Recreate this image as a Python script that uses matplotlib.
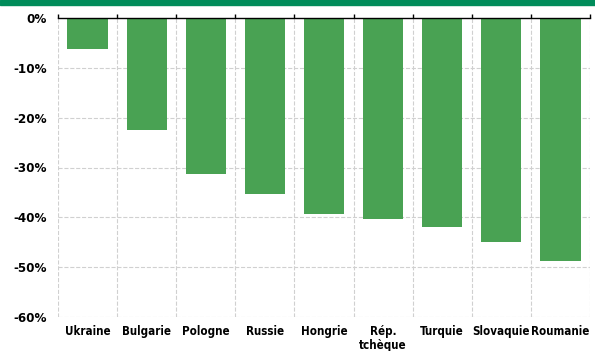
import matplotlib
matplotlib.use('Agg')
import matplotlib.pyplot as plt
import numpy as np
from matplotlib.ticker import FuncFormatter

# Data
countries = ['Ukraine', 'Bulgarie', 'Pologne', 'Russie', 'Hongrie',
             'Rép.\ntchèque', 'Turquie', 'Slovaquie', 'Roumanie']
changes = [-6.2, -22.5, -31.4, -35.3, -39.3, -40.4, -42.0, -45.0, -48.8]

plt.rcParams['font.family'] = ['DejaVu Sans']
plt.rcParams['font.stretch'] = 'condensed'

fig = plt.figure(figsize=(5.95, 3.51), dpi=100)
ax = fig.add_axes([58 / 595, (351 - 317) / 351, (590 - 58) / 595, (317 - 18) / 351])

x = np.arange(len(countries))
ax.bar(x, changes, width=0.68, color='#49a253', zorder=3)

# green band along the top of the figure
fig.patches.append(plt.Rectangle((0, 1 - 5 / 351), 1, 5 / 351, transform=fig.transFigure,
                                 color='#008c5a', zorder=0))

ax.set_xlim(-0.5, len(countries) - 0.5)
ax.set_ylim(-60, 0)
ax.set_yticks(np.arange(-60, 1, 10))
ax.yaxis.set_major_formatter(FuncFormatter(lambda v, p: '%d%%' % round(v)))

# dashed grid lines at category boundaries and every 10%
for b in np.arange(-0.5, len(countries), 1.0):
    ax.axvline(b, color='#d0d0d0', linestyle='--', linewidth=0.8, zorder=1)
for v in np.arange(-60, 0, 10):
    ax.axhline(v, color='#d0d0d0', linestyle='--', linewidth=0.8, zorder=1)

for s in ['left', 'right', 'bottom']:
    ax.spines[s].set_visible(False)
ax.spines['top'].set_color('black')
ax.spines['top'].set_linewidth(1.0)
ax.spines['top'].set_zorder(4)

ax.set_xticks(x)
ax.set_xticklabels(countries, fontsize=8.3, fontweight='semibold', linespacing=1.1)
ax.tick_params(axis='x', length=0, pad=6)
ax.set_xticks(np.arange(-0.5, len(countries), 1.0), minor=True)
ax.tick_params(axis='x', which='minor', top=True, bottom=False, direction='out', length=3,
               width=1, color='black')
ax.tick_params(axis='y', length=0, pad=8, labelsize=9.5)
for lab in ax.get_yticklabels():
    lab.set_fontweight('semibold')

plt.savefig('out.png', dpi=100)
